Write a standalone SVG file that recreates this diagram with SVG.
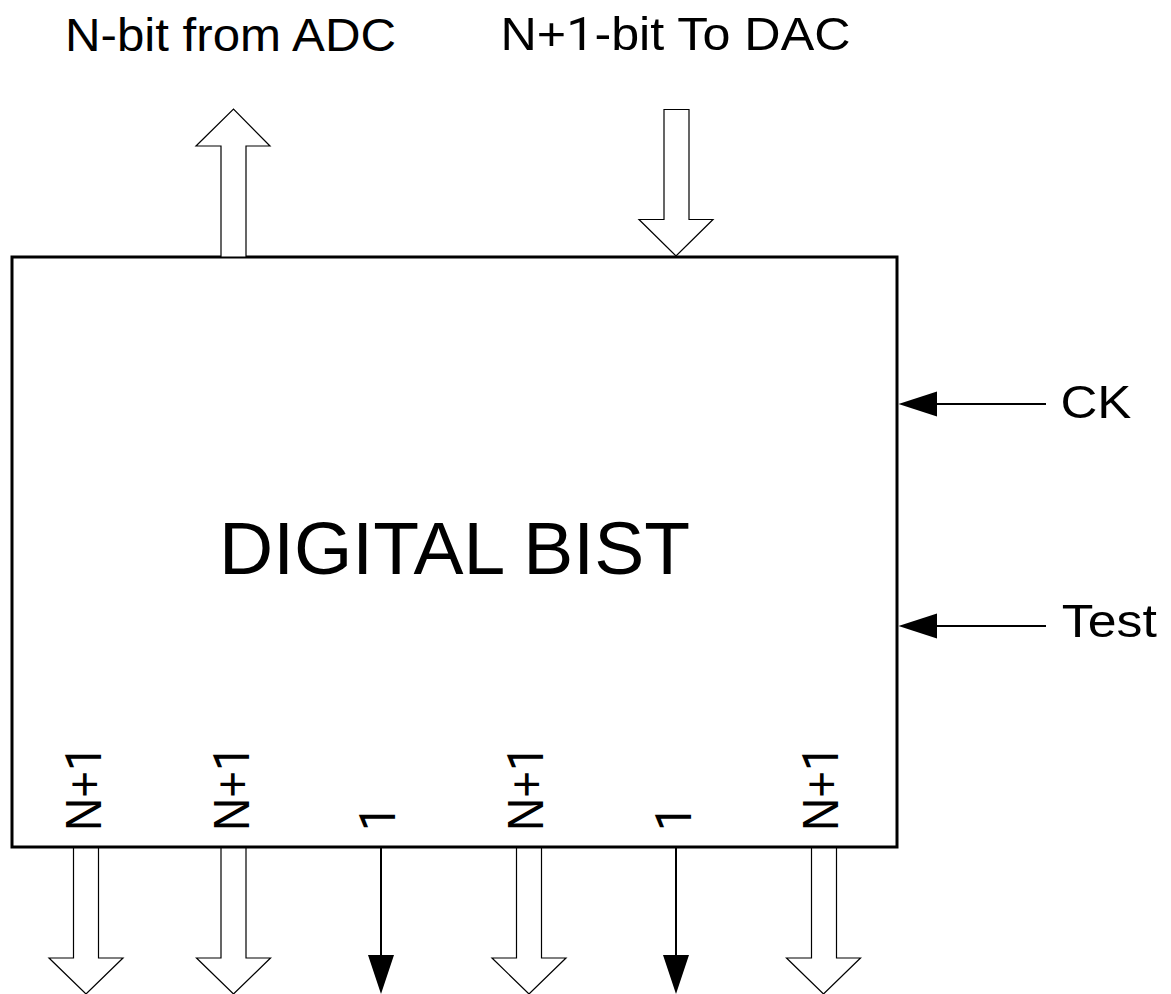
<svg xmlns="http://www.w3.org/2000/svg" width="1171" height="994" viewBox="0 0 1171 994">
<style>
text{font-family:"Liberation Sans",Arial,sans-serif;fill:#000}
.one{font-family:Roboto,"Liberation Sans",sans-serif}
.box{fill:#fff;stroke:#000;stroke-width:3}
.bus{fill:#fff;stroke:#000;stroke-width:1.2;stroke-linejoin:miter}
.wire{stroke:#000;stroke-width:2;fill:none}
.head{fill:#000;stroke:none}
.lbl{font-size:46px}
</style>
<rect width="1171" height="994" fill="#fff"/>
<g id="bist">
<rect class="box" x="12" y="257" width="885" height="590"/>
<text x="219" y="574" font-size="73.5" textLength="471" lengthAdjust="spacingAndGlyphs">DIGITAL BIST</text>
</g>
<g id="connectors">
<polygon class="bus" points="221,257 221,146 196,146 233.5,109 270,146 246,146 246,257"/>
<polygon class="bus" points="664,109.5 689,109.5 689,219.5 713,219.5 676,256 639,219.5 664,219.5"/>
<polygon class="bus" points="73.5,848 73.5,958 49,958 86,994 123,958 98.5,958 98.5,848"/>
<polygon class="bus" points="221,848 221,958 196.5,958 233.5,994 270.5,958 246,958 246,848"/>
<polygon class="bus" points="516.5,848 516.5,958 492,958 529,994 566,958 541.5,958 541.5,848"/>
<polygon class="bus" points="811.5,848 811.5,958 786.5,958 823.5,994 860.5,958 836.5,958 836.5,848"/>
<line class="wire" x1="381" y1="848" x2="381" y2="958"/>
<polygon class="head" points="368,955 394,955 381,994"/>
<line class="wire" x1="676" y1="848" x2="676" y2="958"/>
<polygon class="head" points="663,955 689,955 676,994"/>
<line class="wire" x1="935" y1="404" x2="1046" y2="404"/>
<polygon class="head" points="898.5,404 937,391.5 937,416.5"/>
<line class="wire" x1="935" y1="626" x2="1046" y2="626"/>
<polygon class="head" points="898.5,626 937,613.5 937,638.5"/>
</g>
<g id="labels">
<text class="lbl" x="65" y="51" textLength="331" lengthAdjust="spacingAndGlyphs">N-bit from ADC</text>
<text class="lbl" x="500.5" y="50" textLength="350" lengthAdjust="spacingAndGlyphs">N+<tspan class="one">1</tspan>-bit To DAC</text>
<text class="lbl" x="1060.4" y="418.3" textLength="71" lengthAdjust="spacingAndGlyphs">CK</text>
<text class="lbl" x="1061.8" y="636.7" textLength="95" lengthAdjust="spacingAndGlyphs">Test</text>
<text class="lbl" transform="translate(100.7,831) rotate(-90) scale(1,1.08)">N+<tspan class="one">1</tspan></text>
<text class="lbl" transform="translate(249,831) rotate(-90) scale(1,1.08)">N+<tspan class="one">1</tspan></text>
<text class="lbl one" transform="translate(395,831) rotate(-90) scale(1,1.08)">1</text>
<text class="lbl" transform="translate(543.3,831) rotate(-90) scale(1,1.08)">N+<tspan class="one">1</tspan></text>
<text class="lbl one" transform="translate(690.7,831) rotate(-90) scale(1,1.08)">1</text>
<text class="lbl" transform="translate(838.3,831) rotate(-90) scale(1,1.08)">N+<tspan class="one">1</tspan></text>
</g>
</svg>
